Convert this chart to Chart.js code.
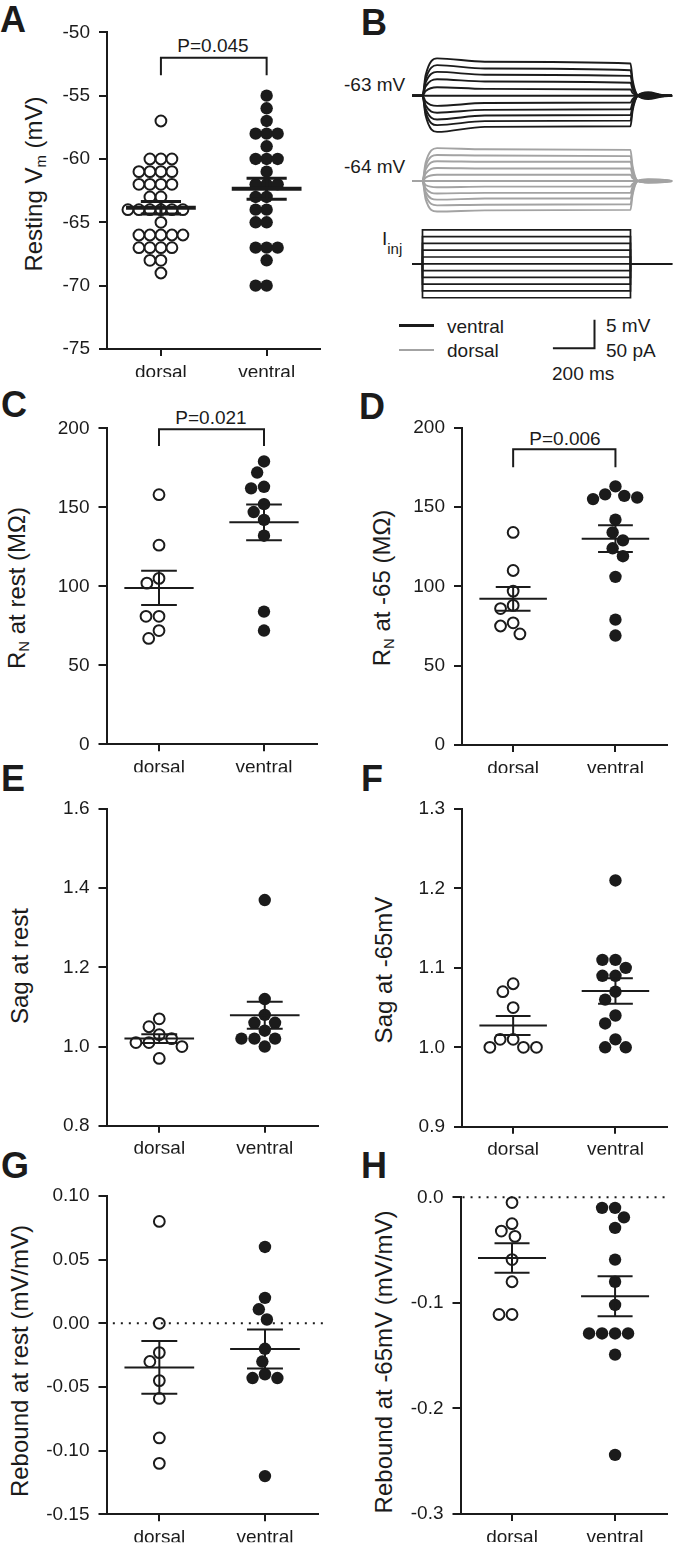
<!DOCTYPE html>
<html>
<head>
<meta charset="utf-8">
<script src="https://cdn.jsdelivr.net/npm/chart.js@4.4.1/dist/chart.umd.min.js"></script>
<style>
  body { margin: 0; background: #fff; }
  #fig { position: relative; width: 674px; height: 1548px; overflow: hidden;
         font-family: "Liberation Sans", Arial, Helvetica, sans-serif; color: #1b1b1b; }
  canvas { position: absolute; }
  .lbl { position: absolute; white-space: nowrap; line-height: 1; font-size: 19px; transform: translateY(-50%); }
  .pv { position: absolute; white-space: nowrap; line-height: 1; font-size: 19px; transform: translate(-50%, -50%); }
  .ttl { position: absolute; white-space: nowrap; line-height: 1; font-size: 24px;
         transform: translate(-50%, -50%) rotate(-90deg); }
  .ttl sub, .lbl sub { font-size: 0.62em; position: relative; top: 0.3em; vertical-align: baseline; }
  .ltr { position: absolute; line-height: 1; font-size: 36px; font-weight: bold; transform: translateY(-50%); }
  .key { position: absolute; height: 2px; }
</style>
</head>
<body>
<div id="fig">
  <!-- panel letters -->
  <div class="ltr" style="left:0px;top:20px">A</div>
  <div class="ltr" style="left:361px;top:23px">B</div>
  <div class="ltr" style="left:1px;top:405px">C</div>
  <div class="ltr" style="left:359px;top:407px">D</div>
  <div class="ltr" style="left:1px;top:779px">E</div>
  <div class="ltr" style="left:361px;top:779px">F</div>
  <div class="ltr" style="left:1px;top:1166px">G</div>
  <div class="ltr" style="left:361px;top:1166px">H</div>

  <!-- axis titles -->
  <div class="ttl" style="left:34px;top:184px">Resting V<sub>m</sub> (mV)</div>
  <div class="ttl" style="left:17px;top:588px">R<sub>N</sub> at rest (MΩ)</div>
  <div class="ttl" style="left:382px;top:588px">R<sub>N</sub> at -65 (MΩ)</div>
  <div class="ttl" style="left:20px;top:966px">Sag at rest</div>
  <div class="ttl" style="left:384px;top:970px">Sag at -65mV</div>
  <div class="ttl" style="left:20px;top:1361px">Rebound at rest (mV/mV)</div>
  <div class="ttl" style="left:384px;top:1362px">Rebound at -65mV (mV/mV)</div>

  <!-- p values -->
  <div class="pv" style="left:213px;top:45px">P=0.045</div>
  <div class="pv" style="left:211px;top:417px">P=0.021</div>
  <div class="pv" style="left:565px;top:438px">P=0.006</div>

  <!-- panel B labels -->
  <div class="lbl" style="left:344px;top:84px">-63 mV</div>
  <div class="lbl" style="left:344px;top:166px">-64 mV</div>
  <div class="lbl" style="left:382px;top:238px">I<sub style="font-size:15px;top:9px">inj</sub></div>
  <div class="key" style="left:399px;top:324px;width:35px;background:#1b1b1b;height:2.5px"></div>
  <div class="lbl" style="left:447px;top:326px">ventral</div>
  <div class="key" style="left:399px;top:349px;width:35px;background:#a3a3a3"></div>
  <div class="lbl" style="left:447px;top:350px">dorsal</div>
  <div class="lbl" style="left:606px;top:325px">5 mV</div>
  <div class="lbl" style="left:606px;top:350px">50 pA</div>
  <div class="lbl" style="left:552px;top:373px">200 ms</div>
</div>

<script>
// Gruppen
const groups = ["dorsal", "ventral"];

// A: resting membrane potential (mV)
const restDorsal = [-57, -60, -60, -60, -61, -61, -61, -61, -62, -62, -62, -62, -63, -63,
  -64, -64, -64, -64, -64, -64, -65, -66, -66, -66, -66, -66, -67, -67, -67, -67, -68, -68, -69];
const restVentral = [-55, -56, -57, -58, -58, -58, -59, -60, -60, -60, -61, -62, -62, -62,
  -63, -63, -64, -64, -65, -65, -67, -67, -67, -68, -70, -70];

// C: input resistance at rest (MOhm)
const rnRestDorsal = [158, 126, 102, 105, 81, 81, 72, 67];
const rnRestVentral = [179, 172, 163, 162, 152, 147, 142, 132, 84, 72];

// D: input resistance at -65 mV (MOhm)
const rn65Dorsal = [134, 110, 97, 88, 86, 77, 75, 70];
const rn65Ventral = [163, 157, 155, 156, 158, 142, 129, 134, 124, 119, 106, 79, 69];

// E / F: sag ratio
const sagRestDorsal = [1.07, 1.05, 1.03, 1.02, 1.01, 1.0, 1.01, 0.97];
const sagRestVentral = [1.37, 1.12, 1.08, 1.06, 1.06, 1.04, 1.02, 1.02, 1.02, 1.0];
const sag65Dorsal = [1.08, 1.07, 1.05, 1.01, 1.0, 1.0, 1.0, 1.01];
const sag65Ventral = [1.21, 1.11, 1.11, 1.1, 1.09, 1.09, 1.07, 1.06, 1.04, 1.03, 1.01, 1.0, 1.0];

// G / H: rebound (mV/mV)
const rebRestDorsal = [0.08, 0.0, -0.023, -0.03, -0.045, -0.059, -0.09, -0.11];
const rebRestVentral = [0.06, 0.02, 0.011, 0.003, -0.02, -0.03, -0.043, -0.043, -0.04, -0.12];
const reb65Dorsal = [-0.005, -0.025, -0.032, -0.037, -0.059, -0.08, -0.111, -0.111];
const reb65Ventral = [-0.01, -0.01, -0.019, -0.029, -0.059, -0.08, -0.102, -0.129, -0.129,
  -0.129, -0.129, -0.149, -0.244];

// tick values
const ticksRest = [-75, -70, -65, -60, -55, -50];
const ticksRN = [0, 50, 100, 150, 200];
const ticksSagRest = [0.8, 1.0, 1.2, 1.4, 1.6];
const ticksSag65 = [0.9, 1.0, 1.1, 1.2, 1.3];
const ticksRebRest = [-0.15, -0.1, -0.05, 0.0, 0.05, 0.1];
const ticksReb65 = [-0.3, -0.2, -0.1, 0.0];

// B: example traces, one value per current step (top = most depolarising)
const traceTimes = [-50, 0, 15, 70, 300, 1000, 1010, 1035, 1085, 1150, 1200]; // ms
const injSteps = [60, 48, 36, 24, 12, 0, -12, -24, -36, -48, -60]; // pA
const blackRise = [3.6, 2.9, 2.3, 1.6, 0.8, 0, -1.0, -1.7, -2.3, -2.9, -3.5];
const blackPeak = [6.6, 5.4, 4.2, 2.9, 1.5, 0, -1.8, -3.0, -4.2, -5.2, -6.4];
const blackMid = [6.0, 4.8, 3.7, 2.5, 1.2, 0, -1.3, -2.5, -3.5, -4.5, -5.5];
const blackSteady = [5.7, 4.5, 3.5, 2.3, 1.1, 0, -1.2, -2.4, -3.4, -4.4, -5.4];
const blackFall = [2.8, 2.2, 1.7, 1.1, 0.5, 0, -0.6, -1.2, -1.7, -2.2, -2.7];
const blackRebound = [-0.6, -0.45, -0.35, -0.2, -0.1, 0, 0.15, 0.3, 0.4, 0.5, 0.6];
const blackLate = [-0.15, -0.1, -0.1, -0.05, 0, 0, 0, 0.05, 0.1, 0.1, 0.15];
const greyRise = [3.2, 2.6, 2.0, 1.3, 0.6, 0, -0.7, -1.3, -1.9, -2.5, -3.2];
const greyPeak = [5.8, 4.6, 3.5, 2.3, 1.1, 0, -1.1, -2.2, -3.3, -4.3, -5.4];
const greyMid = [5.6, 4.5, 3.4, 2.2, 1.1, 0, -1.0, -2.1, -3.1, -4.2, -5.2];
const greySteady = [5.5, 4.4, 3.4, 2.2, 1.1, 0, -1.0, -2.1, -3.1, -4.1, -5.1];
const greyFall = [2.6, 2.1, 1.6, 1.0, 0.5, 0, -0.5, -1.0, -1.5, -2.0, -2.5];
const greyRebound = [-0.3, -0.25, -0.2, -0.1, -0.05, 0, 0.05, 0.1, 0.2, 0.25, 0.3];
const greyLate = [-0.25, -0.2, -0.15, -0.1, -0.05, 0, 0.05, 0.1, 0.15, 0.2, 0.25];

const INK = "#1b1b1b";
const GREY = "#a3a3a3";
const FONT = "'Liberation Sans', Arial, Helvetica, sans-serif";
const fig = document.getElementById("fig");

Chart.defaults.font.family = FONT;
Chart.defaults.color = INK;

function mean(a) {
  return a.reduce((s, v) => s + v, 0) / a.length;
}

function sem(a) {
  const m = mean(a);
  const sd = Math.sqrt(a.reduce((s, v) => s + (v - m) ** 2, 0) / (a.length - 1));
  return sd / Math.sqrt(a.length);
}

function addCanvas(box) {
  const c = document.createElement("canvas");
  c.width = box[2];
  c.height = box[3];
  c.style.left = box[0] + "px";
  c.style.top = box[1] + "px";
  fig.appendChild(c);
  return c;
}

// simple line piece
function seg(pts, w, dash) {
  return {
    data: pts.map(([x, y]) => ({ x, y })),
    showLine: true,
    borderColor: INK,
    borderWidth: w,
    borderDash: dash || [],
    pointRadius: 0,
    tension: 0,
    clip: false,
  };
}

// beeswarm: spread points sideways so they don't overlap (pixel space)
function swarm(pix, minDist) {
  const order = pix.map((_, i) => i).sort((a, b) => pix[a] - pix[b]);
  const placed = [];
  const out = [];
  order.forEach((i) => {
    const y = pix[i];
    const near = placed.filter((q) => Math.abs(q.y - y) < minDist);
    const cands = [0];
    near.forEach((q) => {
      const h = Math.sqrt(minDist * minDist - (q.y - y) ** 2);
      cands.push(q.x - h, q.x + h);
    });
    const free = cands.filter((c) =>
      near.every((q) => (q.x - c) ** 2 + (q.y - y) ** 2 >= minDist * minDist - 0.5)
    );
    free.sort((a, b) => Math.abs(a) - Math.abs(b));
    out[i] = free[0];
    placed.push({ x: free[0], y });
  });
  return out;
}

const panels = [
  { dorsal: restDorsal, ventral: restVentral, ticks: ticksRest, dec: 0,
    canvas: [0, 0, 337, 390], area: [107, 319.5, 32.3, 349], xr: [0.49, 2.5],
    meanW: 4, barW: 3, cap: 0.19, gap: 11, bracket: [-52.0, -53.4] },
  { dorsal: rnRestDorsal, ventral: rnRestVentral, ticks: ticksRN, dec: 0,
    canvas: [0, 390, 337, 390], area: [106.5, 316.5, 428.3, 744.3], xr: [0.5, 2.5],
    meanW: 2, barW: 2, cap: 0.17, gap: 13, bracket: [199.4, 188.8] },
  { dorsal: rn65Dorsal, ventral: rn65Ventral, ticks: ticksRN, dec: 0,
    canvas: [337, 390, 337, 390], area: [462, 673.2, 427.7, 745], xr: [0.5, 2.5],
    meanW: 2, barW: 2, cap: 0.17, gap: 13, bracket: [186.4, 175.0] },
  { dorsal: sagRestDorsal, ventral: sagRestVentral, ticks: ticksSagRest, dec: 1,
    canvas: [0, 780, 337, 380], area: [106.5, 317.5, 809, 1125.7], xr: [0.5, 2.5],
    meanW: 2, barW: 2, cap: 0.17, gap: 13 },
  { dorsal: sag65Dorsal, ventral: sag65Ventral, ticks: ticksSag65, dec: 1,
    canvas: [337, 780, 337, 380], area: [462, 672.2, 809, 1126.7], xr: [0.5, 2.5],
    meanW: 2, barW: 2, cap: 0.17, gap: 13 },
  { dorsal: rebRestDorsal, ventral: rebRestVentral, ticks: ticksRebRest, dec: 2,
    canvas: [0, 1160, 337, 388], area: [106.5, 317.8, 1196, 1514.3], xr: [0.5, 2.5],
    meanW: 2, barW: 2, cap: 0.17, gap: 13, zero: [0.56, 2.58] },
  { dorsal: reb65Dorsal, ventral: reb65Ventral, ticks: ticksReb65, dec: 1,
    canvas: [337, 1160, 337, 388], area: [460.5, 672.7, 1197.3, 1514], xr: [0.5, 2.5],
    meanW: 2, barW: 2, cap: 0.17, gap: 13, zero: [0.52, 2.52] },
];

const YW = 60; // y-axis box width
const XH = 28; // x-axis box height

function makePanel(p) {
  const canvas = addCanvas(p.canvas);
  const [cx, cy, cw, ch] = p.canvas;
  const [L, R, T, B] = p.area;
  const datasets = [];

  // mean +/- SEM on top of the dots
  [p.dorsal, p.ventral].forEach((vals, gi) => {
    const g = gi + 1;
    const m = mean(vals);
    const s = sem(vals);
    datasets.push(seg([[g - 0.33, m], [g + 0.33, m]], p.meanW));
    datasets.push(seg([[g, m - s], [g, m + s]], p.barW));
    datasets.push(seg([[g - p.cap, m + s], [g + p.cap, m + s]], p.barW));
    datasets.push(seg([[g - p.cap, m - s], [g + p.cap, m - s]], p.barW));
  });

  if (p.bracket) {
    const [top, leg] = p.bracket;
    datasets.push(seg([[1, leg], [1, top], [2, top], [2, leg]], 2));
  }
  if (p.zero) {
    datasets.push(seg([[p.zero[0], 0], [p.zero[1], 0]], 2, [2, 6]));
  }

  const dots = [p.dorsal, p.ventral].map((vals, gi) => ({
    data: vals.map((v) => ({ x: gi + 1, y: v })),
    showLine: false,
    pointRadius: gi === 0 ? 5.4 : 6.2,
    pointBorderWidth: gi === 0 ? 2 : 0,
    pointBackgroundColor: gi === 0 ? "#ffffff" : INK,
    pointBorderColor: INK,
    clip: false,
  }));
  datasets.push(...dots);

  const chart = new Chart(canvas, {
    type: "scatter",
    data: { datasets },
    options: {
      responsive: false,
      animation: false,
      events: [],
      layout: {
        padding: { left: L - YW - cx, right: cx + cw - R, top: T - cy, bottom: cy + ch - B - XH },
      },
      plugins: { legend: { display: false }, tooltip: { enabled: false } },
      scales: {
        x: {
          type: "linear",
          min: p.xr[0],
          max: p.xr[1],
          afterFit: (s) => { s.height = XH; },
          afterBuildTicks: (s) => { s.ticks = [{ value: 1 }, { value: 2 }]; },
          ticks: {
            callback: (v) => groups[v - 1],
            color: INK,
            font: { size: 19 },
            padding: 5,
            maxRotation: 0,
            autoSkip: false,
          },
          grid: { drawOnChartArea: false, drawTicks: true, tickLength: 7, color: INK, lineWidth: 2 },
          border: { display: true, color: INK, width: 2 },
        },
        y: {
          type: "linear",
          min: p.ticks[0],
          max: p.ticks[p.ticks.length - 1],
          afterFit: (s) => { s.width = YW; },
          afterBuildTicks: (s) => { s.ticks = p.ticks.map((v) => ({ value: v })); },
          ticks: {
            callback: (v) => Number(v).toFixed(p.dec),
            color: INK,
            font: { size: 19 },
            padding: 9,
          },
          grid: { drawOnChartArea: false, drawTicks: true, tickLength: 8, color: INK, lineWidth: 2 },
          border: { display: true, color: INK, width: 2 },
        },
      },
    },
  });

  // spread the dots once the scales are known
  const xs = chart.scales.x;
  const ys = chart.scales.y;
  const pxPerUnit = xs.getPixelForValue(2) - xs.getPixelForValue(1);
  [p.dorsal, p.ventral].forEach((vals, gi) => {
    const offs = swarm(vals.map((v) => ys.getPixelForValue(v)), p.gap);
    dots[gi].data = vals.map((v, i) => ({ x: gi + 1 + offs[i] / pxPerUnit, y: v }));
  });
  chart.update("none");
}

panels.forEach(makePanel);

// ---- panel B: voltage responses and current steps ----
const greyOffset = -15.07; // mV, vertical shift of the dorsal traces
const injOffset = -29.7; // mV, vertical shift of the current steps
const mvPerPa = 5 / 50; // scale bar: 5 mV == 50 pA

function traceData(ph, i, off) {
  const vals = [0, 0, ph.rise[i], ph.peak[i], ph.mid[i], ph.steady[i], ph.fall[i], 0,
    ph.rebound[i], ph.late[i], 0];
  return traceTimes.map((t, k) => ({ x: t, y: vals[k] + off }));
}

function makeTraces() {
  const canvas = addCanvas([337, 40, 337, 340]);
  const black = { rise: blackRise, peak: blackPeak, mid: blackMid, steady: blackSteady,
    fall: blackFall, rebound: blackRebound, late: blackLate };
  const grey = { rise: greyRise, peak: greyPeak, mid: greyMid, steady: greySteady,
    fall: greyFall, rebound: greyRebound, late: greyLate };
  const datasets = [];

  injSteps.forEach((pa, i) => {
    datasets.push({
      data: traceData(black, i, 0), showLine: true, borderColor: INK, borderWidth: 1.9,
      pointRadius: 0, cubicInterpolationMode: "monotone", clip: false,
    });
    datasets.push({
      data: traceData(grey, i, greyOffset), showLine: true, borderColor: GREY, borderWidth: 1.9,
      pointRadius: 0, cubicInterpolationMode: "monotone", clip: false,
    });
    const lvl = injOffset + pa * mvPerPa;
    datasets.push({
      data: [
        { x: traceTimes[0], y: injOffset }, { x: 0, y: injOffset }, { x: 0, y: lvl },
        { x: 1000, y: lvl }, { x: 1000, y: injOffset }, { x: traceTimes[traceTimes.length - 1], y: injOffset },
      ],
      showLine: true, borderColor: INK, borderWidth: 1.7, pointRadius: 0, tension: 0, clip: false,
    });
  });

  // scale bar 200 ms / 5 mV
  const barT = 827, barV = -44.6;
  datasets.push(seg([[barT - 200, barV], [barT, barV], [barT, barV + 5]], 2));

  new Chart(canvas, {
    type: "scatter",
    data: { datasets },
    options: {
      responsive: false,
      animation: false,
      events: [],
      layout: { padding: 0 },
      plugins: { legend: { display: false }, tooltip: { enabled: false } },
      scales: {
        x: { type: "linear", display: false, min: -411, max: 1209.2 },
        y: { type: "linear", display: false, min: -50.23, max: 9.84 },
      },
    },
  });
}

makeTraces();
</script>
</body>
</html>
